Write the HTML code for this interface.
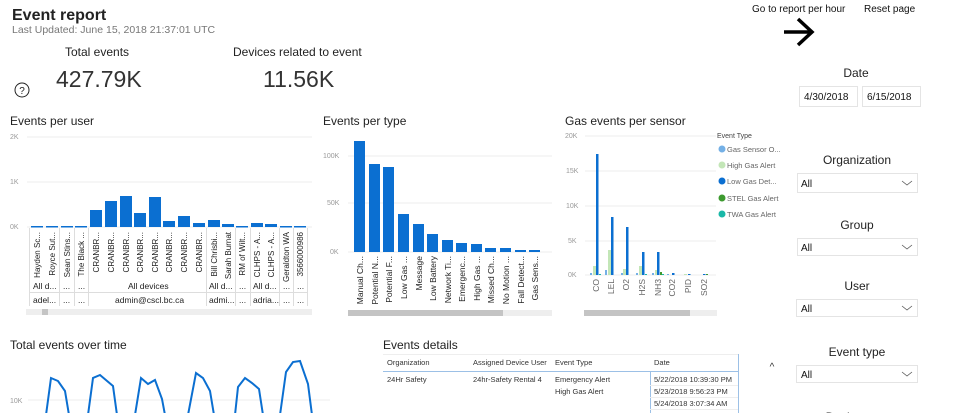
<!DOCTYPE html>
<html><head><meta charset="utf-8"><style>
html,body{margin:0;padding:0;background:#fff;width:960px;height:413px;overflow:hidden}
svg{display:block;font-family:"Liberation Sans",sans-serif}
</style></head><body>
<svg width="960" height="413" viewBox="0 0 960 413" xmlns="http://www.w3.org/2000/svg">
<text x="12" y="20" font-size="16" font-weight="bold" fill="#222">Event report</text>
<text x="12" y="33" font-size="10.5" fill="#777">Last Updated: June 15, 2018 21:37:01 UTC</text>
<text x="65" y="56" font-size="12" fill="#222">Total events</text>
<text x="56" y="87" font-size="23" fill="#333">427.79K</text>
<text x="233" y="56" font-size="12" fill="#222">Devices related to event</text>
<text x="263" y="87" font-size="23" fill="#333">11.56K</text>
<circle cx="22" cy="90" r="7" fill="none" stroke="#222" stroke-width="1"/>
<text x="22" y="94" font-size="10" text-anchor="middle" fill="#222">?</text>

<text x="752" y="12" font-size="10" fill="#111">Go to report per hour</text>
<text x="864" y="12" font-size="10" fill="#111">Reset page</text>
<path d="M784 32 H812 M798 19 L812 32 L798 45" stroke="#000" stroke-width="3.5" fill="none"/>

<g font-size="12" fill="#222" text-anchor="middle">
<text x="856" y="77">Date</text>
<text x="857" y="164">Organization</text>
<text x="857" y="229">Group</text>
<text x="857" y="290">User</text>
<text x="857" y="356">Event type</text>
<text x="857" y="421">Device type</text>
</g>
<g fill="#fff" stroke="#e4e4e4">
<rect x="799.5" y="86.5" width="58" height="20"/><rect x="862.5" y="86.5" width="58" height="20"/>
<rect x="797.5" y="173.5" width="120" height="19"/>
<rect x="797.5" y="238.5" width="120" height="17"/>
<rect x="796.5" y="299.5" width="121" height="17"/>
<rect x="796.5" y="365.5" width="121" height="17"/>
</g>
<g font-size="10" fill="#111">
<text x="804" y="100">4/30/2018</text><text x="867" y="100">6/15/2018</text>
<text x="801" y="187">All</text><text x="801" y="251">All</text><text x="801" y="312">All</text><text x="801" y="378">All</text>
</g>
<g stroke="#555" fill="none" stroke-width="0.8">
<path d="M902 181 l5 4 l5 -4"/><path d="M902 245 l5 4 l5 -4"/><path d="M902 306 l5 4 l5 -4"/><path d="M902 372 l5 4 l5 -4"/>
</g>
<text x="772" y="370" font-size="10" fill="#333" text-anchor="middle">^</text>

<text x="10" y="125" font-size="12" fill="#222">Events per user</text>
<g stroke="#eee"><line x1="27" y1="137" x2="312" y2="137"/><line x1="27" y1="182" x2="312" y2="182"/><line x1="27" y1="227" x2="312" y2="227"/></g>
<g font-size="7" fill="#999"><text x="10" y="139">2K</text><text x="10" y="184">1K</text><text x="10" y="229">0K</text></g>
<g fill="#0b6fd1">
<rect x="31" y="226" width="12" height="1.5"/><rect x="46" y="226" width="12" height="1.5"/><rect x="61" y="226" width="12" height="1.5"/><rect x="75" y="226" width="12" height="1.5"/>
<rect x="90" y="210" width="12" height="17"/><rect x="105" y="201" width="12" height="26"/><rect x="120" y="196" width="12" height="31"/><rect x="134" y="213" width="12" height="14"/><rect x="149" y="197" width="12" height="30"/><rect x="163" y="221" width="12" height="6"/><rect x="178" y="216" width="12" height="11"/><rect x="193" y="223" width="12" height="4"/>
<rect x="208" y="220" width="12" height="7"/><rect x="222" y="224" width="12" height="3"/><rect x="236" y="226" width="12" height="1.5"/><rect x="251" y="223" width="12" height="4"/><rect x="265" y="224" width="12" height="3"/><rect x="280" y="226" width="12" height="1.5"/><rect x="294" y="226" width="12" height="1.5"/>
</g>
<g stroke="#ddd"><line x1="29.5" y1="228" x2="29.5" y2="306"/><line x1="59.5" y1="228" x2="59.5" y2="306"/><line x1="74.5" y1="228" x2="74.5" y2="306"/><line x1="88.5" y1="228" x2="88.5" y2="306"/><line x1="206.5" y1="228" x2="206.5" y2="306"/><line x1="235.5" y1="228" x2="235.5" y2="306"/><line x1="250.5" y1="228" x2="250.5" y2="306"/><line x1="279.5" y1="228" x2="279.5" y2="306"/><line x1="293.5" y1="228" x2="293.5" y2="306"/><line x1="307.5" y1="228" x2="307.5" y2="306"/><line x1="30" y1="292.5" x2="307" y2="292.5"/></g>
<g font-size="8" fill="#222" text-anchor="end">
<text transform="translate(40,232) rotate(-90)">Hayden Sc...</text>
<text transform="translate(55,232) rotate(-90)">Royce Sut...</text>
<text transform="translate(70,232) rotate(-90)">Sean Stins...</text>
<text transform="translate(84,232) rotate(-90)">The Black ...</text>
<text transform="translate(99,232) rotate(-90)">CRANBR...</text>
<text transform="translate(114,232) rotate(-90)">CRANBR...</text>
<text transform="translate(129,232) rotate(-90)">CRANBR...</text>
<text transform="translate(143,232) rotate(-90)">CRANBR...</text>
<text transform="translate(158,232) rotate(-90)">CRANBR...</text>
<text transform="translate(172,232) rotate(-90)">CRANBR...</text>
<text transform="translate(187,232) rotate(-90)">CRANBR...</text>
<text transform="translate(202,232) rotate(-90)">CRANBR...</text>
<text transform="translate(217,232) rotate(-90)">Bill Chrisbi...</text>
<text transform="translate(231,232) rotate(-90)">Sarah Burnat</text>
<text transform="translate(245,232) rotate(-90)">RM of Wilt...</text>
<text transform="translate(260,232) rotate(-90)">CLHPS - A...</text>
<text transform="translate(274,232) rotate(-90)">CLHPS - A...</text>
<text transform="translate(289,232) rotate(-90)">Geraldton WA</text>
<text transform="translate(303,232) rotate(-90)">3566000986</text>
</g>
<g font-size="8.5" fill="#222">
<text x="33" y="289">All d...</text><text x="63" y="289">...</text><text x="78" y="289">...</text><text x="128" y="289">All devices</text><text x="209" y="289">All d...</text><text x="239" y="289">...</text><text x="253" y="289">All d...</text><text x="283" y="289">...</text><text x="297" y="289">...</text>
<text x="33" y="303">adel...</text><text x="63" y="303">...</text><text x="78" y="303">...</text><text x="115" y="303">admin@cscl.bc.ca</text><text x="209" y="303">admi...</text><text x="239" y="303">...</text><text x="253" y="303">adria...</text><text x="283" y="303">...</text><text x="297" y="303">...</text>
</g>
<rect x="26" y="309" width="286" height="6" fill="#eee"/><rect x="42" y="309" width="6" height="6" fill="#c4c4c4"/>

<text x="323" y="125" font-size="12" fill="#222">Events per type</text>
<g stroke="#eee"><line x1="348" y1="156" x2="552" y2="156"/><line x1="348" y1="203" x2="552" y2="203"/><line x1="348" y1="252" x2="552" y2="252"/></g>
<g font-size="7" fill="#999"><text x="323" y="158">100K</text><text x="327" y="205">50K</text><text x="330" y="254">0K</text></g>
<g fill="#0b6fd1">
<rect x="354" y="141" width="11" height="111"/><rect x="369" y="164" width="11" height="88"/><rect x="383" y="167" width="11" height="85"/><rect x="398" y="214" width="11" height="38"/><rect x="413" y="224" width="11" height="28"/><rect x="427" y="234" width="11" height="18"/><rect x="442" y="240" width="11" height="12"/><rect x="456" y="243" width="11" height="9"/><rect x="471" y="244" width="11" height="8"/><rect x="485" y="248" width="11" height="4"/><rect x="500" y="248" width="11" height="4"/><rect x="515" y="250" width="11" height="2"/><rect x="529" y="250" width="11" height="2"/>
</g>
<g font-size="8.5" fill="#222" text-anchor="end">
<text transform="translate(363,256) rotate(-90)">Manual Ch...</text>
<text transform="translate(378,256) rotate(-90)">Potential N...</text>
<text transform="translate(392,256) rotate(-90)">Potential F...</text>
<text transform="translate(407,256) rotate(-90)">Low Gas ...</text>
<text transform="translate(422,256) rotate(-90)">Message</text>
<text transform="translate(436,256) rotate(-90)">Low Battery</text>
<text transform="translate(451,256) rotate(-90)">Network Ti...</text>
<text transform="translate(465,256) rotate(-90)">Emergenc...</text>
<text transform="translate(480,256) rotate(-90)">High Gas ...</text>
<text transform="translate(494,256) rotate(-90)">Missed Ch...</text>
<text transform="translate(509,256) rotate(-90)">No Motion ...</text>
<text transform="translate(524,256) rotate(-90)">Fall Detect...</text>
<text transform="translate(538,256) rotate(-90)">Gas Sens...</text>
</g>
<rect x="348" y="310" width="204" height="6" fill="#eee"/><rect x="348" y="310" width="155" height="6" fill="#c4c4c4"/>

<text x="565" y="125" font-size="12" fill="#222">Gas events per sensor</text>
<g stroke="#eee"><line x1="585" y1="136" x2="716" y2="136"/><line x1="585" y1="171" x2="716" y2="171"/><line x1="585" y1="206" x2="716" y2="206"/><line x1="585" y1="241" x2="716" y2="241"/><line x1="585" y1="275" x2="716" y2="275"/></g>
<g font-size="7" fill="#999"><text x="565" y="138">20K</text><text x="566" y="173">15K</text><text x="566" y="208">10K</text><text x="568" y="243">5K</text><text x="568" y="277">0K</text></g>
<g fill="#74b0e6"><rect x="590" y="273" width="2" height="2"/><rect x="605" y="270" width="2" height="5"/><rect x="621" y="273" width="2" height="2"/><rect x="636" y="273" width="2" height="2"/><rect x="652" y="273" width="2" height="2"/><rect x="667" y="274" width="2" height="1"/></g>
<g fill="#c3e6b7"><rect x="593" y="266" width="3" height="9"/><rect x="608" y="250" width="3" height="25"/><rect x="623" y="269" width="3" height="6"/><rect x="639" y="266" width="3" height="9"/><rect x="655" y="270" width="3" height="5"/><rect x="684" y="274" width="3" height="1"/></g>
<g fill="#0b6fd1"><rect x="596" y="154" width="2.5" height="121"/><rect x="611" y="217" width="2.5" height="58"/><rect x="626" y="227" width="2.5" height="48"/><rect x="642" y="252" width="2.5" height="23"/><rect x="657" y="252" width="2.5" height="23"/><rect x="672" y="273" width="2.5" height="2"/><rect x="688" y="274" width="2.5" height="1"/><rect x="703" y="274" width="2.5" height="1"/></g>
<g fill="#3d9a2f"><rect x="660" y="272" width="2" height="3"/><rect x="706" y="274" width="2" height="1"/></g>
<g fill="#1ab8a8"><rect x="599" y="274" width="2" height="1"/><rect x="645" y="274" width="2" height="1"/><rect x="662" y="274" width="2" height="1"/></g>
<g font-size="8.5" fill="#666" text-anchor="end">
<text transform="translate(599,279) rotate(-90)">CO</text>
<text transform="translate(614,279) rotate(-90)">LEL</text>
<text transform="translate(629,279) rotate(-90)">O2</text>
<text transform="translate(645,279) rotate(-90)">H2S</text>
<text transform="translate(661,279) rotate(-90)">NH3</text>
<text transform="translate(675,279) rotate(-90)">CO2</text>
<text transform="translate(691,279) rotate(-90)">PID</text>
<text transform="translate(707,279) rotate(-90)">SO2</text>
</g>
<rect x="584" y="310" width="133" height="6" fill="#eee"/><rect x="584" y="310" width="106" height="6" fill="#c4c4c4"/>
<text x="717" y="138" font-size="7" fill="#444">Event Type</text>
<g font-size="7.5" fill="#666">
<circle cx="722" cy="149" r="3.5" fill="#74b0e6"/><text x="727" y="152">Gas Sensor O...</text>
<circle cx="722" cy="165" r="3.5" fill="#c3e6b7"/><text x="727" y="168">High Gas Alert</text>
<circle cx="722" cy="181" r="3.5" fill="#0b6fd1"/><text x="727" y="184">Low Gas Det...</text>
<circle cx="722" cy="198" r="3.5" fill="#3d9a2f"/><text x="727" y="201">STEL Gas Alert</text>
<circle cx="722" cy="214" r="3.5" fill="#1ab8a8"/><text x="727" y="217">TWA Gas Alert</text>
</g>

<text x="10" y="349" font-size="12" fill="#222">Total events over time</text>
<line x1="28" y1="400" x2="330" y2="400" stroke="#eee"/>
<text x="10" y="403" font-size="7" fill="#999">10K</text>
<polyline fill="none" stroke="#0b6fd1" stroke-width="2" points="46,415 51,378 58,381 65,391 69,415"/>
<polyline fill="none" stroke="#0b6fd1" stroke-width="2" points="88,415 93,378 100,375 113,386 117,415"/>
<polyline fill="none" stroke="#0b6fd1" stroke-width="2" points="135,415 141,378 148,384 155,380 162,399 165,415"/>
<polyline fill="none" stroke="#0b6fd1" stroke-width="2" points="188,415 196,373 203,378 210,391 214,415"/>
<polyline fill="none" stroke="#0b6fd1" stroke-width="2" points="235,415 238,387 245,378 252,383 259,389 263,415"/>
<polyline fill="none" stroke="#0b6fd1" stroke-width="2" points="280,415 286,372 293,362 300,361 308,384 312,415"/>

<text x="383" y="349" font-size="12" fill="#222">Events details</text>
<line x1="383" y1="371.5" x2="738" y2="371.5" stroke="#9cc0e6"/>
<line x1="738.5" y1="354" x2="738.5" y2="413" stroke="#9cc0e6"/>
<line x1="650.5" y1="371" x2="650.5" y2="413" stroke="#9cc0e6"/>
<g stroke="#eee"><line x1="383" y1="354.5" x2="738" y2="354.5"/><line x1="650" y1="385.5" x2="738" y2="385.5"/><line x1="650" y1="397.5" x2="738" y2="397.5"/><line x1="650" y1="409.5" x2="738" y2="409.5"/></g>
<g font-size="7.5" fill="#333">
<text x="387" y="365">Organization</text><text x="473" y="365">Assigned Device User</text><text x="555" y="365">Event Type</text><text x="654" y="365">Date</text>
<text x="387" y="382">24Hr Safety</text><text x="473" y="382">24hr-Safety Rental 4</text><text x="555" y="382">Emergency Alert</text><text x="654" y="382">5/22/2018 10:39:30 PM</text>
<text x="555" y="394">High Gas Alert</text><text x="654" y="394">5/23/2018 9:56:23 PM</text>
<text x="654" y="406">5/24/2018 3:07:34 AM</text>
</g>
</svg>
</body></html>
